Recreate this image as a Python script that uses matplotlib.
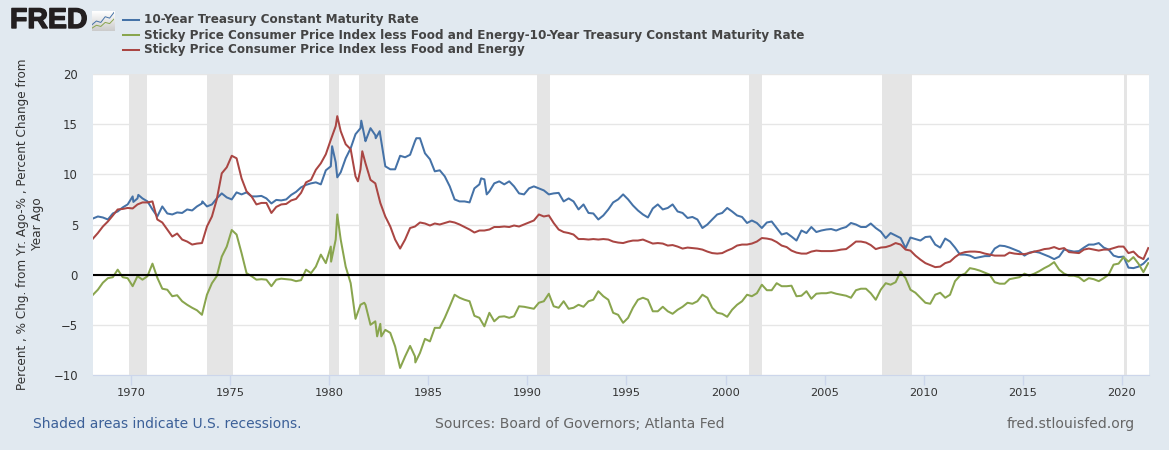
import numpy as np
import pandas as pd
import matplotlib
matplotlib.use('Agg')
import matplotlib.pyplot as plt
import matplotlib.dates as mdates
import matplotlib.patheffects as pe

# quarterly readings, one row per year, starting 1968
treasury = [
    5.6, 5.8, 5.7, 5.5,  # 1968
    6.1, 6.3, 6.7, 7.0,
    7.8, 7.6, 7.6, 7.3,
    6.5, 5.8, 6.8, 6.1,
    6.0, 6.2, 6.15, 6.5,
    6.4, 6.8, 7.1, 6.8,
    7.0, 7.6, 8.1, 7.7,
    7.5, 8.2, 8.0, 8.2,
    7.8, 7.8, 7.85, 7.6,
    7.1, 7.45, 7.4, 7.5,
    7.95, 8.25, 8.7, 8.95,
    9.1, 9.2, 9.0, 10.4,
    10.8, 11.2, 10.2, 11.6,  # 1980
    12.6, 14.0, 14.6, 13.3,
    14.6, 13.9, 13.9, 10.8,
    10.5, 10.5, 11.85, 11.7,
    11.95, 13.3, 13.6, 12.1,
    11.5, 10.3, 10.4, 9.8,
    8.8, 7.5, 7.3, 7.3,
    7.2, 8.6, 9.0, 9.5,
    8.3, 9.1, 9.3, 9.0,
    9.3, 8.8, 8.1, 8.0,
    8.6, 8.8, 8.6, 8.4,  # 1990
    8.0, 8.1, 8.15, 7.3,
    7.6, 7.3, 6.5, 7.0,
    6.15, 6.1, 5.5, 5.9,
    6.5, 7.2, 7.5, 8.0,
    7.5, 6.9, 6.4, 6.0,
    5.7, 6.6, 7.0, 6.5,
    6.65, 7.0, 6.3, 6.15,
    5.65, 5.75, 5.5, 4.65,
    5.0, 5.5, 6.0, 6.15,
    6.65, 6.3, 5.9, 5.75,  # 2000
    5.15, 5.4, 5.15, 4.65,
    5.2, 5.3, 4.65, 4.0,
    4.15, 3.8, 3.4, 4.4,
    4.15, 4.75, 4.25, 4.4,
    4.5, 4.55, 4.4, 4.6,
    4.75, 5.15, 5.0, 4.75,
    4.75, 5.1, 4.65, 4.3,
    3.65, 4.15, 3.9, 3.65,
    2.65, 3.7, 3.55, 3.4,
    3.75, 3.8, 3.0, 2.7,  # 2010
    3.6, 3.3, 2.7, 2.0,
    2.0, 1.9, 1.65, 1.75,
    1.85, 1.85, 2.6, 2.9,
    2.85, 2.7, 2.5, 2.3,
    1.9, 2.2, 2.3, 2.2,
    2.0, 1.8, 1.55, 1.8,
    2.5, 2.4, 2.3, 2.35,
    2.7, 3.0, 3.0, 3.15,
    2.7, 2.5, 1.9, 1.75,
    1.8, 0.7, 0.65, 0.8,  # 2020
    1.1, 1.6,
]
# peaks and dips that fall between the quarters
treasury_extra_years = [1970.12, 1970.37, 1973.6, 1980.15, 1980.41, 1981.62, 1981.85, 1982.35, 1982.55,
                        1984.4, 1987.67, 1987.95]
treasury_extra = [7.25, 7.95, 7.3, 12.8, 9.7, 15.35, 13.4, 13.6, 14.3, 13.6, 9.6, 8.0]

spread = [
    -2.0, -1.5, -0.8, -0.35,  # 1968
    -0.25, 0.5, -0.25, -0.35,
    -1.15, -0.15, -0.5, -0.15,
    1.1, -0.3, -1.4, -1.5,
    -2.15, -2.05, -2.65, -3.0,
    -3.3, -3.55, -4.0, -2.0,
    -0.85, -0.15, 1.8, 2.8,
    4.45, 4.0, 2.15, 0.15,
    -0.15, -0.5, -0.45, -0.5,
    -1.15, -0.5, -0.4, -0.45,
    -0.5, -0.65, -0.55, 0.5,
    0.15, 0.8, 2.0, 1.15,
    2.8, 3.5, 3.5, 0.8,  # 1980
    -0.85, -4.4, -3.0, -3.0,
    -5.0, -4.65, -4.9, -5.5,
    -5.8, -7.15, -9.3, -8.15,
    -7.1, -8.15, -7.8, -6.4,
    -6.65, -5.3, -5.3, -4.3,
    -3.15, -2.0, -2.3, -2.5,
    -2.65, -4.1, -4.3, -5.15,
    -3.8, -4.65, -4.2, -4.15,
    -4.3, -4.15, -3.15, -3.2,
    -3.3, -3.4, -2.8, -2.65,  # 1990
    -1.9, -3.15, -3.3, -2.65,
    -3.4, -3.3, -3.0, -3.2,
    -2.65, -2.5, -1.65, -2.15,
    -2.5, -3.8, -4.0, -4.8,
    -4.3, -3.3, -2.5, -2.3,
    -2.5, -3.65, -3.65, -3.2,
    -3.65, -3.9, -3.5, -3.2,
    -2.8, -2.9, -2.65, -2.0,
    -2.3, -3.3, -3.8, -3.9,
    -4.2, -3.5, -3.0, -2.65,  # 2000
    -2.0, -2.15, -1.85, -1.0,
    -1.55, -1.55, -0.85, -1.15,
    -1.15, -1.1, -2.15, -2.1,
    -1.65, -2.4, -1.9, -1.85,
    -1.85, -1.75, -1.9, -2.0,
    -2.1, -2.3, -1.55, -1.4,
    -1.4, -1.85, -2.5, -1.5,
    -0.85, -1.0, -0.75, 0.3,
    -0.35, -1.5, -1.8, -2.3,
    -2.8, -2.9, -2.0, -1.8,  # 2010
    -2.3, -2.0, -0.65, -0.1,
    0.1, 0.65, 0.55, 0.4,
    0.2, 0.0, -0.75, -0.9,
    -0.9, -0.45, -0.35, -0.25,
    0.1, -0.1, 0.1, 0.35,
    0.65, 0.9, 1.25, 0.5,
    0.1, -0.1, -0.1, -0.25,
    -0.65, -0.35, -0.45, -0.65,
    -0.35, 0.0, 1.0, 1.1,
    1.75, 1.3, 1.75, 1.1,  # 2020
    0.25, 1.15,
]
spread_extra_years = [1980.1, 1980.41, 1981.77, 1982.42, 1982.63, 1984.35]
spread_extra = [1.3, 6.0, -2.8, -6.15, -6.15, -8.75]

sticky = [
    3.6, 4.15, 4.8, 5.3,  # 1968
    5.9, 6.5, 6.55, 6.65,
    6.6, 7.0, 7.2, 7.2,
    7.3, 5.5, 5.2, 4.5,
    3.8, 4.1, 3.5, 3.3,
    3.0, 3.1, 3.15, 4.8,
    5.8, 7.5, 10.1, 10.7,
    11.85, 11.6, 9.6, 8.3,
    7.8, 7.0, 7.15, 7.15,
    6.15, 6.75, 7.0, 7.05,
    7.4, 7.55, 8.15, 9.2,
    9.45, 10.45, 11.1, 12.0,
    13.45, 14.8, 14.3, 13.0,  # 1980
    12.5, 9.8, 10.5, 11.1,
    9.45, 9.1, 7.15, 5.8,
    4.8, 3.5, 2.6, 3.5,
    4.65, 4.8, 5.2, 5.1,
    4.9, 5.1, 5.0, 5.15,
    5.3, 5.2, 5.0, 4.75,
    4.5, 4.2, 4.4, 4.4,
    4.5, 4.75, 4.75, 4.8,
    4.75, 4.9, 4.8, 5.0,
    5.2, 5.4, 6.0, 5.8,  # 1990
    5.9, 5.15, 4.5, 4.25,
    4.15, 4.0, 3.55, 3.55,
    3.5, 3.55, 3.5, 3.55,
    3.5, 3.3, 3.2, 3.15,
    3.3, 3.4, 3.4, 3.5,
    3.3, 3.1, 3.15, 3.1,
    2.9, 2.95, 2.8, 2.6,
    2.7, 2.65, 2.6, 2.5,
    2.3, 2.15, 2.1, 2.15,
    2.4, 2.6, 2.9, 3.0,  # 2000
    3.0, 3.1, 3.3, 3.65,
    3.6, 3.5, 3.25, 2.9,
    2.75, 2.4, 2.2, 2.1,
    2.1, 2.3, 2.4, 2.35,
    2.35, 2.35, 2.4, 2.5,
    2.55, 2.9, 3.3, 3.3,
    3.2, 2.95, 2.55, 2.7,
    2.75, 2.9, 3.15, 3.0,
    2.5, 2.4, 1.9, 1.5,
    1.15, 0.95, 0.75, 0.8,  # 2010
    1.15, 1.3, 1.75, 2.1,
    2.25, 2.3, 2.3, 2.25,
    2.1, 2.0, 1.9, 1.9,
    1.9, 2.2, 2.1, 2.05,
    2.05, 2.15, 2.3, 2.4,
    2.55, 2.6, 2.75, 2.55,
    2.65, 2.25, 2.2, 2.15,
    2.5, 2.6, 2.5, 2.4,
    2.5, 2.5, 2.65, 2.8,
    2.8, 2.15, 2.3, 1.8,  # 2020
    1.55, 2.65,
]
sticky_extra_years = [1980.41, 1981.45, 1981.67]
sticky_extra = [15.8, 9.3, 12.3]

series_names = [
    '10-Year Treasury Constant Maturity Rate',
    'Sticky Price Consumer Price Index less Food and Energy-10-Year Treasury Constant Maturity Rate',
    'Sticky Price Consumer Price Index less Food and Energy',
]
recessions = [
    ('1969-12-01', '1970-11-01'),
    ('1973-11-01', '1975-03-01'),
    ('1980-01-01', '1980-07-01'),
    ('1981-07-01', '1982-11-01'),
    ('1990-07-01', '1991-03-01'),
    ('2001-03-01', '2001-11-01'),
    ('2007-12-01', '2009-06-01'),
    ('2020-02-01', '2020-04-01'),
]
year_ticks = list(range(1970, 2021, 5))
y_ticks = [-10, -5, 0, 5, 10, 15, 20]

BG = '#e1e9f0'
BLUE = '#4572a7'
GREEN = '#89a54e'
RED = '#aa4643'
W, H = 1169, 450


def px_x(x):
    return x / W


def px_y(y):
    return 1 - y / H


def with_extras(values, extra_years, extra_values):
    # quarterly readings plus the in-between points, in date order
    dates = pd.date_range('1968-01-15', periods=len(values), freq='3MS')
    extra_dates = [pd.Timestamp(year=int(y), month=1, day=1) + pd.Timedelta(days=(y - int(y)) * 365.25)
                   for y in extra_years]
    s = pd.concat([pd.Series(values, index=dates), pd.Series(extra_values, index=extra_dates)])
    return s.sort_index()


fig = plt.figure(figsize=(W / 100, H / 100), dpi=100, facecolor=BG)
ax = fig.add_axes([px_x(93), px_y(375), 1056 / W, 301 / H])

for start, end in recessions:
    ax.axvspan(pd.Timestamp(start), pd.Timestamp(end), color='#e5e5e5', lw=0, zorder=1)

ax.grid(axis='y', color='#e6e6e6', lw=1, zorder=0)
ax.set_axisbelow(True)
ax.axhline(0, color='black', lw=1.5, zorder=5)

blue_line = with_extras(treasury, treasury_extra_years, treasury_extra)
green_line = with_extras(spread, spread_extra_years, spread_extra)
red_line = with_extras(sticky, sticky_extra_years, sticky_extra)
ax.plot(blue_line.index, blue_line.values, color=BLUE, lw=1.45, zorder=3)
ax.plot(green_line.index, green_line.values, color=GREEN, lw=1.45, zorder=3)
ax.plot(red_line.index, red_line.values, color=RED, lw=1.45, zorder=3)

ax.set_xlim(pd.Timestamp('1968-02-01'), pd.Timestamp('2021-05-15'))
ax.set_ylim(-10, 20)
ax.set_yticks(y_ticks)
ax.set_xticks([pd.Timestamp(year=y, month=1, day=1) for y in year_ticks])
ax.xaxis.set_major_formatter(mdates.DateFormatter('%Y'))
ax.tick_params(axis='x', length=7, width=1, color='#ccd6eb', labelcolor='#333333',
               labelsize=8.2, pad=2)
ax.tick_params(axis='y', length=0, labelcolor='#333333', labelsize=8.4, pad=10.8)
for side in ['top', 'right', 'left']:
    ax.spines[side].set_visible(False)
ax.spines['bottom'].set_color('#ccd6eb')

fig.text(px_x(30), px_y(224), 'Percent , % Chg. from Yr. Ago-% , Percent Change from\nYear Ago',
         rotation=90, ha='center', va='center', multialignment='center', fontsize=8.65,
         color='#333333', linespacing=1.25)

# legend, placed by hand like the FRED header
for y, name, color in zip([20, 35, 50], series_names, [BLUE, GREEN, RED]):
    fig.add_artist(plt.Line2D([px_x(123), px_x(139)], [px_y(y), px_y(y)], color=color, lw=1.45))
    fig.text(px_x(144), px_y(y), name, fontsize=8.68, fontweight='bold', color='#444444',
             va='center', ha='left')

# logo
logo = fig.text(px_x(10), px_y(21), 'FRED', fontsize=20.5, fontweight='bold', color='#231f20',
                family='Liberation Sans', va='center', ha='left')
logo.set_path_effects([pe.withStroke(linewidth=1.0, foreground='#231f20')])
icon = fig.add_axes([px_x(92), px_y(31), 22 / W, 20 / H])
icon.imshow(np.linspace(1, 0.8, 20).reshape(-1, 1), cmap='gray', vmin=0, vmax=1, aspect='auto',
            extent=[0, 5, 0, 7])
icon.plot([0, 1, 2, 3, 4, 5], [2.2, 3.5, 3.0, 5.0, 4.5, 6.5], color=BLUE, lw=0.7)
icon.plot([0, 1, 2, 3, 4, 5], [1.0, 2.0, 1.6, 3.0, 2.6, 4.2], color=GREEN, lw=0.7)
icon.set_xlim(0, 5)
icon.set_ylim(0, 7)
icon.set_xticks([])
icon.set_yticks([])
for side in icon.spines:
    icon.spines[side].set_visible(False)

fig.text(px_x(33), px_y(424), 'Shaded areas indicate U.S. recessions.', fontsize=10.0,
         color='#3c6098', va='center', ha='left')
fig.text(px_x(435), px_y(424), 'Sources: Board of Governors; Atlanta Fed', fontsize=10.05,
         color='#666666', va='center', ha='left')
fig.text(px_x(1135), px_y(424), 'fred.stlouisfed.org', fontsize=10.05,
         color='#666666', va='center', ha='right')

fig.savefig('out.png', dpi=100, facecolor=BG)
